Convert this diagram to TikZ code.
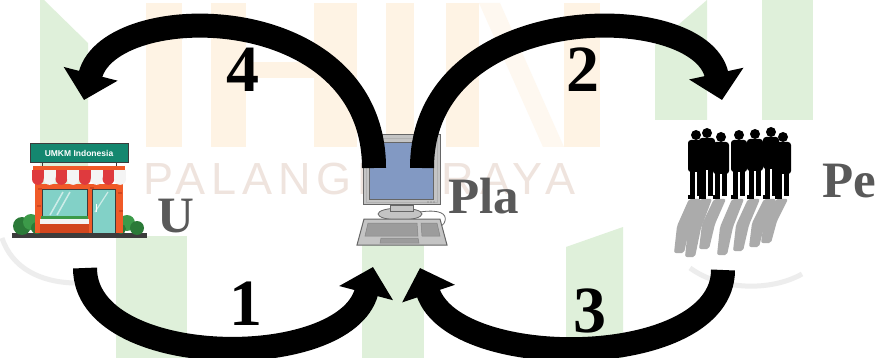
\documentclass[tikz,border=0pt]{standalone}
\usepackage{fontspec}
\setmainfont{Liberation Serif}
\newfontfamily\wmfont[LetterSpace=13]{Liberation Sans}
\newfontfamily\signfont{Liberation Sans}
\usetikzlibrary{arrows.meta}

\definecolor{wmgreen}{HTML}{DFF0DA}
\definecolor{wmorange}{HTML}{FEF3E4}
\definecolor{wmorangelight}{HTML}{FEF8F0}
\definecolor{wmtext}{HTML}{EFE4DE}
\definecolor{wmring}{HTML}{EDEDED}
\definecolor{labelgrey}{HTML}{595959}
\definecolor{signgreen}{HTML}{14876F}
\definecolor{shoporange}{HTML}{F05A28}
\definecolor{shopbrick}{HTML}{D2461E}
\definecolor{shopred}{HTML}{DF3A3E}
\definecolor{shopwhite}{HTML}{F4F4F4}
\definecolor{shopglass}{HTML}{82D1C7}
\definecolor{shopdark}{HTML}{3C3C3C}
\definecolor{bushdark}{HTML}{2B7A38}
\definecolor{bushlight}{HTML}{3C9A49}
\definecolor{pcgrey}{HTML}{C4C4C4}
\definecolor{pckeys}{HTML}{9C9C9C}
\definecolor{pcdark}{HTML}{666666}
\definecolor{pcscreen}{HTML}{8299C3}
\definecolor{shadowgrey}{HTML}{ABABAB}

\begin{document}
\begin{tikzpicture}[x=1pt,y=-1pt,
  flow/.style={line width=24pt, draw=black, -{Triangle[length=27pt,width=54pt]}},
  num/.style={inner sep=0pt, anchor=base, font=\fontsize{66}{66}\selectfont\bfseries},
  lbl/.style={inner sep=0pt, anchor=base west, text=labelgrey, font=\fontsize{51}{51}\selectfont\bfseries},
  wmbar/.style={fill=wmgreen},
  wmblock/.style={fill=wmorange},
  ring/.style={draw=wmring, line width=5pt},
  person/.style={fill=black},
  shade/.style={fill=shadowgrey}]

\useasboundingbox (0,0) rectangle (883,358);
\fill[white] (0,0) rectangle (883,358);

% ---------- faint background emblem ----------
\fill[wmbar] (40,0) -- (44,0) -- (88,43) -- (88,236) -- (40,236) -- cycle;
\fill[wmbar] (116,236) rectangle (187,358);
\fill[wmbar] (362,232) rectangle (424,358);
\fill[wmbar] (566,247) -- (623,227) -- (623,358) -- (566,358) -- cycle;
\fill[wmbar] (655,45) -- (707,0) -- (707,120) -- (655,120) -- cycle;
\fill[wmbar] (762,0) rectangle (813,120);

\fill[wmblock] (146,3) rectangle (182,147);
\fill[wmblock] (211,3) rectangle (246,147);
\fill[wmblock] (246,62) rectangle (314,78);
\fill[wmblock] (314,3) rectangle (357,147);
\fill[wmblock] (386,3) rectangle (414,147);
\fill[wmblock] (446,3) rectangle (479,147);
\fill[wmorangelight] (479,3) -- (500,3) -- (564,147) -- (543,147) -- cycle;
\fill[wmblock] (564,3) rectangle (600,147);

\node[font=\wmfont\fontsize{45}{45}\selectfont, text=wmtext, anchor=base west, inner sep=0pt]
  (emblemtext) at (143,195) {PALANGKA RAYA};

\draw[ring] (2,238) .. controls (12,268) and (40,282) .. (74,283);
\draw[ring] (690,268) .. controls (720,290) and (770,292) .. (802,274);

% ---------- shop ----------
\fill[shopdark] (12,233) rectangle (147,238);
\fill[bushdark] (22,226) circle[radius=9pt];
\fill[bushlight] (31,222) circle[radius=8pt];
\fill[bushdark] (37,228) circle[radius=6pt];
\fill[bushlight] (127,223) circle[radius=8pt];
\fill[bushdark] (137,228) circle[radius=7pt];
\fill[bushdark] (121,229) circle[radius=5pt];
\fill[shoporange] (35,184) rectangle (123,233);
\foreach \bx/\by in {38/188, 118/192, 37/205, 119/210, 90/187, 60/230, 100/229}
  \fill[shopbrick] (\bx,\by) rectangle ++(4,2);
\filldraw[fill=shopglass, draw=shopdark, line width=1pt] (42,190) rectangle (87,217);
\draw[white, opacity=.6, line width=1.5pt] (50,215) -- (63,192) (57,215) -- (70,192);
\fill[bushlight] (41,216) rectangle (88,219);
\fill[shopwhite] (40,219) rectangle (89,224);
\fill[shopbrick] (40,224) rectangle (89,233);
\filldraw[fill=shopglass, draw=shopdark, line width=1pt] (92,190) rectangle (115,233);
\draw[white, opacity=.6, line width=1.2pt] (95,212) -- (108,192);
\draw[white, line width=1pt] (96,204) -- (96,212);
\fill[shoporange] (33,166) rectangle (125,170);
\foreach \i in {0,...,7}{
  \pgfmathsetmacro{\xa}{32+\i*11.75}
  \ifodd\i \def\awn{shopwhite}\else\def\awn{shopred}\fi
  \fill[\awn] (\xa,170) rectangle ++(11.75,9);
  \fill[\awn] (\xa+5.875,179) circle[radius=5.875pt];
}
\draw[shopdark, line width=1pt] (42,163) -- (42,166) (116,163) -- (116,166);
\filldraw[fill=signgreen, draw=shopdark, line width=1pt] (30,144) rectangle (128,163);
\node[text=white, font=\signfont\bfseries\fontsize{8.5}{8.5}\selectfont, inner sep=0pt]
  (signtext) at (79,153.5) {UMKM Indonesia};

% ---------- computer ----------
\filldraw[fill=pcgrey, draw=pcdark, line width=1pt] (363,135) rectangle (440,205);
\draw[pcdark!50, line width=.6pt] (366,138) rectangle (437,202);
\filldraw[fill=pcscreen, draw=pcdark, line width=.8pt] (369,142) rectangle (433,199);
\foreach \dx in {428,431,434} \fill[pcdark] (\dx,202) circle[radius=.7pt];
\draw[pcdark, line width=.8pt] (420,212) .. controls (440,209) and (447,214) .. (445,221)
  .. controls (444,225) and (441,226) .. (438,227);
\filldraw[fill=pcgrey, draw=pcdark, line width=.8pt] (400,214) ellipse[x radius=22pt, y radius=6pt];
\filldraw[fill=pcgrey, draw=pcdark, line width=.8pt] (390,205) rectangle (413,211);
\filldraw[fill=pcgrey, draw=pcdark, line width=1pt] (364,219) -- (440,219) -- (447,245) -- (357,245) -- cycle;
\filldraw[fill=pckeys, draw=pcdark!80, line width=.5pt] (368,223) -- (417,223) -- (418,236) -- (365,236) -- cycle;
\filldraw[fill=pckeys, draw=pcdark!80, line width=.5pt] (421,223) -- (437,223) -- (440,236) -- (422,236) -- cycle;
\filldraw[fill=pckeys, draw=pcdark!80, line width=.5pt] (381,238) -- (418,238) -- (419,243) -- (380,243) -- cycle;

% ---------- crowd ----------
\fill[white] (642,120) rectangle (828,265);
\foreach \cx/\ln in {696/54, 707/58, 721/50, 739/56, 755/52, 771/48, 783/44}{
  \fill[shade, rounded corners=2pt] (\cx-7,199) -- (\cx+5,199) -- (\cx-6,199+\ln*0.5)
    -- (\cx-12,199+\ln) -- (\cx-22,199+\ln) -- (\cx-19,199+\ln*0.5) -- cycle;
}
\foreach \cx/\hy in {696/130, 707/128, 721/132, 739/130, 755/129, 771/127, 783/132}{
  \fill[person] (\cx,\hy+5) circle[radius=5pt];
  \fill[person, rounded corners=3pt] (\cx-8,\hy+10) rectangle (\cx+8,\hy+42);
  \fill[person] (\cx-6,\hy+38) rectangle (\cx-1,197);
  \fill[person] (\cx+1,\hy+38) rectangle (\cx+6,196);
  \fill[person] (\cx-8,195) rectangle (\cx-1,199);
}

% ---------- connectors ----------
\coordinate (t4) at (374,168);
\coordinate (h4) at (84,100);
\coordinate (t2) at (422,168);
\coordinate (h2) at (722,100);
\coordinate (t1) at (85,268);
\coordinate (h1) at (373,267);
\coordinate (t3) at (723,270);
\coordinate (h3) at (420,268);

\draw[flow] (t4) .. controls (374,-2) and (110,-2) .. (h4);
\draw[flow] (t2) .. controls (422,-2) and (700,-2) .. (h2);
\draw[flow] (t1) .. controls (85,370) and (345,373) .. (h1);
\draw[flow] (t3) .. controls (723,370) and (455,373) .. (h3);

% ---------- labels ----------
\node[num] (n4) at (243,92) {4};
\node[num] (n2) at (583,92) {2};
\node[num] (n1) at (246,325) {1};
\node[num] (n3) at (590,332) {3};

\node[lbl] (lblU) at (157,233) {U};
\node[lbl] (lblPla) at (448,213) {Pla};
\node[lbl] (lblPe) at (822,198) {Pe};
\end{tikzpicture}
\end{document}
